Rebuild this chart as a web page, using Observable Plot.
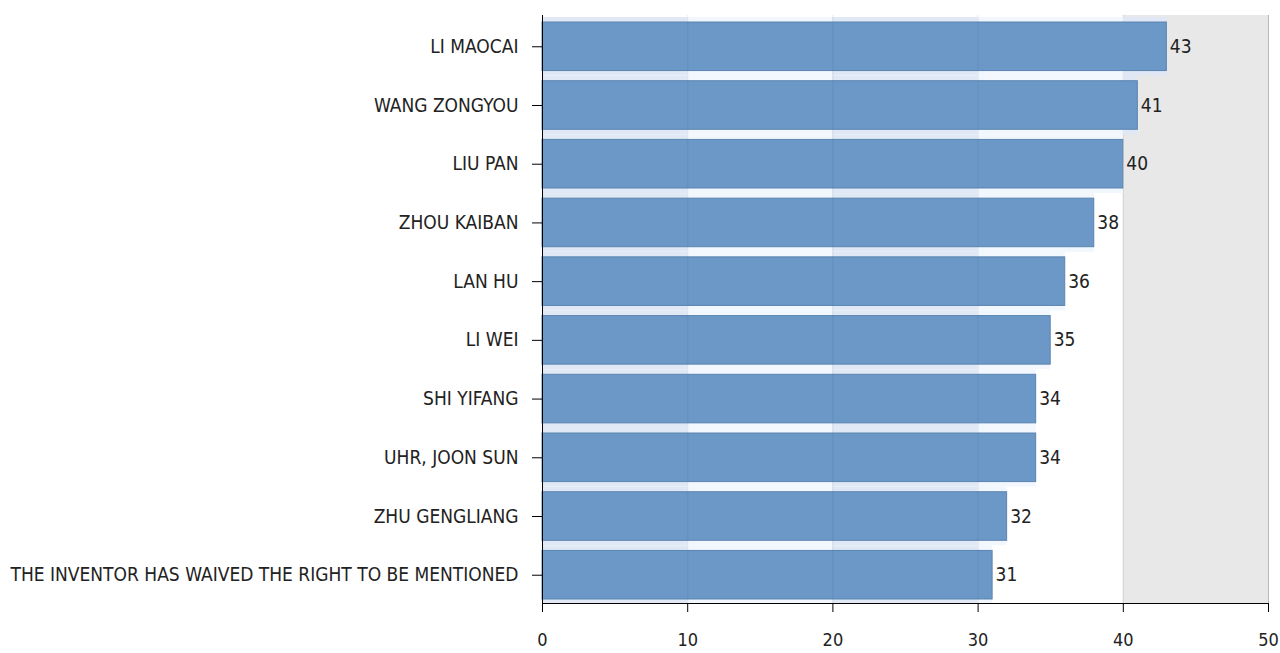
<!DOCTYPE html>
<html>
<head>
<meta charset="utf-8">
<script src="https://cdn.jsdelivr.net/npm/d3@7"></script>
<script src="https://cdn.jsdelivr.net/npm/@observablehq/plot@0.6"></script>
<style>
  html, body { margin: 0; padding: 0; background: #ffffff; }
</style>
</head>
<body>
<div id="chart"></div>
<script>
const names = [
  "LI MAOCAI",
  "WANG ZONGYOU",
  "LIU PAN",
  "ZHOU KAIBAN",
  "LAN HU",
  "LI WEI",
  "SHI YIFANG",
  "UHR, JOON SUN",
  "ZHU GENGLIANG",
  "THE INVENTOR HAS WAIVED THE RIGHT TO BE MENTIONED"
];
const values = [43, 41, 40, 38, 36, 35, 34, 34, 32, 31];
const xTicks = [0, 10, 20, 30, 40, 50];
const gridValues = [10, 20, 30];
const greyBand = [{x1: 40, x2: 50}];

const data = names.map((name, i) => ({name, value: values[i]}));

// light halo segments behind each bar, alternating per 10-unit column
const halo = [];
data.forEach(d => {
  for (let k = 0; k < xTicks.length - 1; k++) {
    const a = xTicks[k], b = xTicks[k + 1];
    if (d.value > a) halo.push({name: d.name, x1: a, x2: Math.min(b, d.value), odd: k % 2});
  }
});

const chart = Plot.plot({
  width: 1280,
  height: 653,
  marginLeft: 542,
  marginRight: 12,
  marginTop: 15,
  marginBottom: 50,
  style: {fontFamily: "'DejaVu Sans Condensed', 'DejaVu Sans', sans-serif", fontSize: "19px", color: "#222", background: "#ffffff"},
  x: {domain: [0, 50], range: [542, 1268]},
  y: {domain: names, range: [22, 599], paddingInner: 0.173, paddingOuter: 0, round: false},
  marks: [
    Plot.rect(greyBand, {x1: "x1", x2: "x2", fill: "#e8e8e8"}),
    Plot.ruleX([40], {stroke: "#d2d2d2"}),
    Plot.ruleX([50], {stroke: "#b8b8b8"}),
    Plot.rect(halo, {x1: "x1", x2: "x2", y: "name", insetTop: -5, insetBottom: -5,
      fill: d => d.odd ? "#f1f7fd" : "#dfe8f4"}),
    Plot.barX(data, {x: "value", y: "name", fill: "#6b98c6", stroke: "#5a84b1", strokeWidth: 1}),
    Plot.ruleX(gridValues, {stroke: "#2a5a90", strokeOpacity: 0.13}),
    Plot.text(data, {x: "value", y: "name", text: d => String(d.value), dx: 3, textAnchor: "start", fill: "#222", fontSize: 19}),
    Plot.ruleX([0], {stroke: "#000"}),
    Plot.frame({anchor: "bottom", stroke: "#000"}),
    Plot.axisY({tickSize: 10, tickPadding: 14, fontSize: 19, label: null, stroke: "#000"}),
    Plot.axisX({ticks: xTicks, tickSize: 9, tickPadding: 21, fontSize: 18, label: null, stroke: "#000"})
  ]
});
document.getElementById("chart").appendChild(chart);
</script>
</body>
</html>
